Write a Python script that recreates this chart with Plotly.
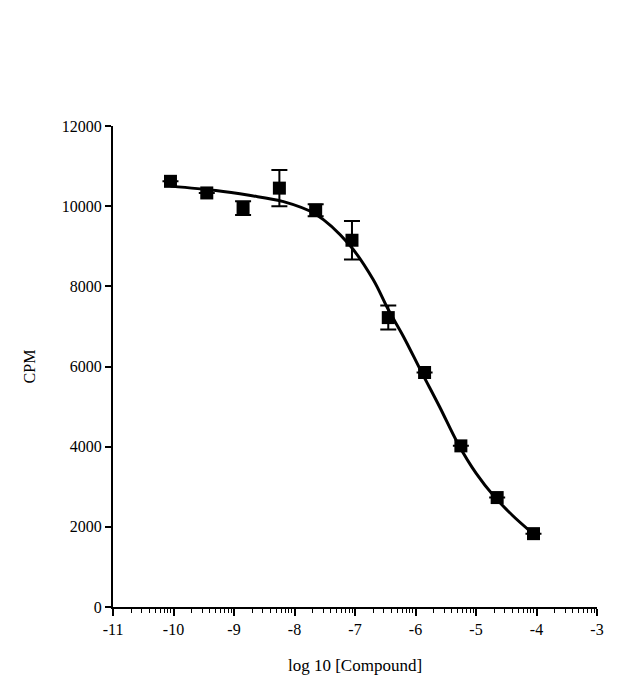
import math

import plotly.graph_objects as go

# measured points
log_conc = [-10.05, -9.45, -8.85, -8.25, -7.65, -7.05, -6.45, -5.85, -5.25, -4.65, -4.05]
cpm = [10620, 10330, 9950, 10450, 9900, 9150, 7220, 5850, 4020, 2730, 1830]
cpm_err = [0, 0, 170, 450, 150, 480, 300, 0, 0, 0, 0]

# fitted curve
fit_x = [-10.05, -9.3, -8.75, -8.2, -7.65, -7.1, -6.7, -6.45, -6.2, -5.9,
         -5.6, -5.3, -5.0, -4.7, -4.4, -4.05]
fit_y = [10500, 10390, 10270, 10120, 9800, 9050, 8170, 7420, 6750, 5860,
         4990, 4080, 3340, 2760, 2290, 1820]

x_ticks = [-11, -10, -9, -8, -7, -6, -5, -4, -3]
y_ticks = [0, 2000, 4000, 6000, 8000, 10000, 12000]

font = 'Liberation Serif'

# log-style minor ticks inside each decade
minor_vals = []
for d in range(-11, -3):
    for k in range(2, 10):
        minor_vals.append(d + math.log10(k))

fig = go.Figure()
fig.add_trace(go.Scatter(x=fit_x, y=fit_y, mode='lines',
                         line=dict(color='black', width=3, shape='spline',
                                   smoothing=1.0),
                         showlegend=False, hoverinfo='skip'))
fig.add_trace(go.Scatter(x=log_conc, y=cpm, mode='markers',
                         marker=dict(symbol='square', size=13, color='black'),
                         error_y=dict(type='data', array=cpm_err, visible=True,
                                      color='black', thickness=2, width=8),
                         showlegend=False))

# page body adds 8px, margins allow for it
fig.update_layout(
    width=640, height=696,
    margin=dict(l=105, r=51, t=118, b=97),
    plot_bgcolor='white', paper_bgcolor='white',
    font=dict(family=font, size=16, color='black'),
)
fig.update_xaxes(range=[-11, -3], tickvals=x_ticks,
                 ticktext=[str(v) for v in x_ticks],
                 ticks='outside', ticklen=7, tickwidth=1.5, tickcolor='black',
                 minor=dict(tickvals=minor_vals, ticks='outside', ticklen=4,
                            tickwidth=1, tickcolor='black'),
                 showline=True, linecolor='black', linewidth=2,
                 showgrid=False, zeroline=False, automargin=False,
                 title=dict(text='log 10 [Compound]', font=dict(size=17),
                            standoff=22))
fig.update_yaxes(range=[0, 12000], tickvals=y_ticks,
                 ticktext=[str(v) for v in y_ticks],
                 ticks='outside', ticklen=6, tickwidth=1.5, tickcolor='black',
                 showline=True, linecolor='black', linewidth=2,
                 showgrid=False, zeroline=False, automargin=False,
                 title=dict(text='CPM', font=dict(size=16), standoff=22))

fig.write_html("out.html")
